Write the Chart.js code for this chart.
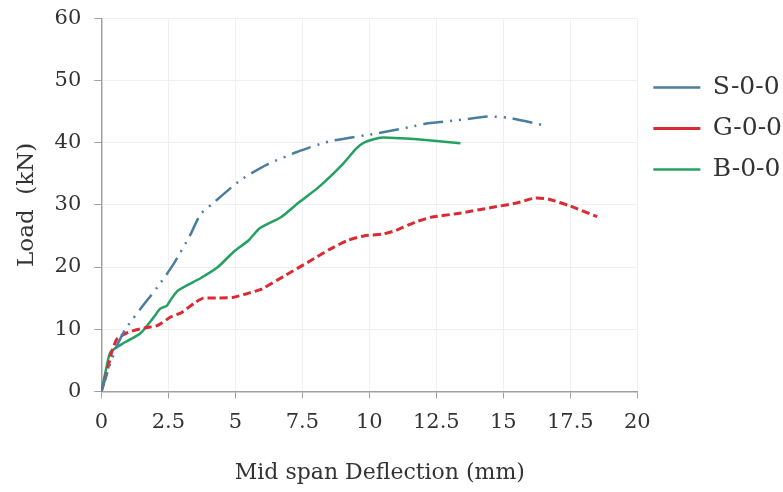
<!DOCTYPE html>
<html>
<head>
<meta charset="utf-8">
<script src="https://cdn.jsdelivr.net/npm/chart.js@4.4.1/dist/chart.umd.min.js"></script>
<style>
  html, body { margin: 0; padding: 0; background: #fff; }
  #wrap { width: 783px; height: 492px; }
</style>
</head>
<body>
<div id="wrap"><canvas id="myChart" width="783" height="492"></canvas></div>
<script>
// values
const sDefl = [0, 0.3, 0.6, 0.9, 1.5, 2.1, 2.7, 3.3, 3.7, 4.1, 5.2, 6.2, 7.3, 8.5, 10.3, 11.5, 12.2, 13.3, 14.4, 15.2, 16.5]
const sLoad = [0, 4, 7.5, 10, 13.5, 16.8, 20.5, 25, 28.5, 30, 34, 36.5, 38.5, 40.2, 41.5, 42.5, 43.1, 43.6, 44.2, 44, 42.8]

const gDefl = [0, 0.2, 0.4, 0.6, 1.0, 1.6, 2.1, 2.6, 3.0, 3.5, 3.8, 4.3, 4.9, 5.5, 6.0, 6.8, 7.8, 8.5, 9.2, 9.8, 10.5, 11.0, 11.7, 12.3, 13.3, 14.6, 15.5, 16.2, 16.7, 17.5, 18.5]
const gLoad = [0, 3, 6.5, 8.5, 9.5, 10.2, 10.6, 12, 12.7, 14.3, 15, 15, 15.1, 15.8, 16.5, 18.5, 21, 22.8, 24.3, 25, 25.3, 25.9, 27.2, 28, 28.6, 29.6, 30.3, 31.1, 30.9, 29.8, 28.1]

const bDefl = [0, 0.15, 0.34, 0.8, 1.45, 1.95, 2.2, 2.45, 2.6, 2.85, 3.7, 4.35, 4.95, 5.5, 5.9, 6.7, 7.4, 8.1, 9.0, 9.5, 9.8, 10.4, 11.2, 12.2, 13.4]
const bLoad = [0, 3, 6.3, 7.7, 9.3, 11.9, 13.3, 13.8, 14.8, 16.2, 18.2, 20, 22.5, 24.3, 26.2, 28, 30.5, 32.8, 36.5, 39, 40, 40.8, 40.7, 40.4, 39.9]

const seriesNames = ["S-0-0", "G-0-0", "B-0-0"]
const xTicks = [0, 2.5, 5, 7.5, 10, 12.5, 15, 17.5, 20]
const yTicks = [0, 10, 20, 30, 40, 50, 60]

function toPoints(xs, ys) {
  return xs.map((x, i) => ({ x: x, y: ys[i] }))
}

const font = "'DejaVu Serif', 'Liberation Serif', serif"
const textColor = "#333333"

const ctx = document.getElementById('myChart')
const myChart = new Chart(ctx, {
  type: 'line',
  data: {
    datasets: [{
      label: seriesNames[0],
      data: toPoints(sDefl, sLoad),
      borderColor: '#4a7d9e',
      borderWidth: 2.5,
      borderDash: [20, 7, 2, 7, 2, 7],
      pointRadius: 0,
      tension: 0.2
    }, {
      label: seriesNames[1],
      data: toPoints(gDefl, gLoad),
      borderColor: '#dc2a33',
      borderWidth: 3,
      borderDash: [8, 4],
      pointRadius: 0,
      tension: 0.2
    }, {
      label: seriesNames[2],
      data: toPoints(bDefl, bLoad),
      borderColor: '#24a062',
      borderWidth: 2.5,
      pointRadius: 0,
      tension: 0.2
    }]
  },
  options: {
    responsive: false,
    animation: false,
    // legend sits flush with the right edge like the reference
    layout: { padding: { top: 11, left: 0, right: -9, bottom: 6 } },
    plugins: {
      legend: {
        position: 'right',
        align: 'start',
        title: { display: true, text: ' ', font: { size: 10 }, padding: { top: 36, bottom: 0 } },
        labels: {
          usePointStyle: true,
          pointStyle: 'line',
          pointStyleWidth: 47,
          color: textColor,
          font: { family: font, size: 25 },
          padding: 16
        }
      },
      tooltip: { enabled: false }
    },
    scales: {
      x: {
        type: 'linear',
        min: 0,
        max: 20,
        afterBuildTicks: (axis) => { axis.ticks = xTicks.map(v => ({ value: v })) },
        grid: { color: '#f0f0f0', tickColor: '#a0a0a0', tickLength: 7 },
        border: { color: '#a0a0a0', width: 1.5 },
        ticks: { color: textColor, font: { family: font, size: 21 }, maxRotation: 0, padding: 12 },
        title: { display: true, text: '\u00a0\u00a0\u00a0Mid span Deflection (mm)', color: textColor, font: { family: font, size: 22 }, padding: { top: 12, bottom: 0 } }
      },
      y: {
        min: 0,
        max: 60,
        afterBuildTicks: (axis) => { axis.ticks = yTicks.map(v => ({ value: v })) },
        grid: { color: '#f0f0f0', tickColor: '#a0a0a0', tickLength: 7 },
        border: { color: '#a0a0a0', width: 1.5 },
        // small lineHeight so the top label doesn't push the plot down
        ticks: { color: textColor, font: { family: font, size: 21, lineHeight: 0.5 }, padding: 13 },
        title: { display: true, text: 'Load  (kN)', color: textColor, font: { family: font, size: 23 }, padding: { top: 13, bottom: 1 } }
      }
    }
  }
})
</script>
</body>
</html>
